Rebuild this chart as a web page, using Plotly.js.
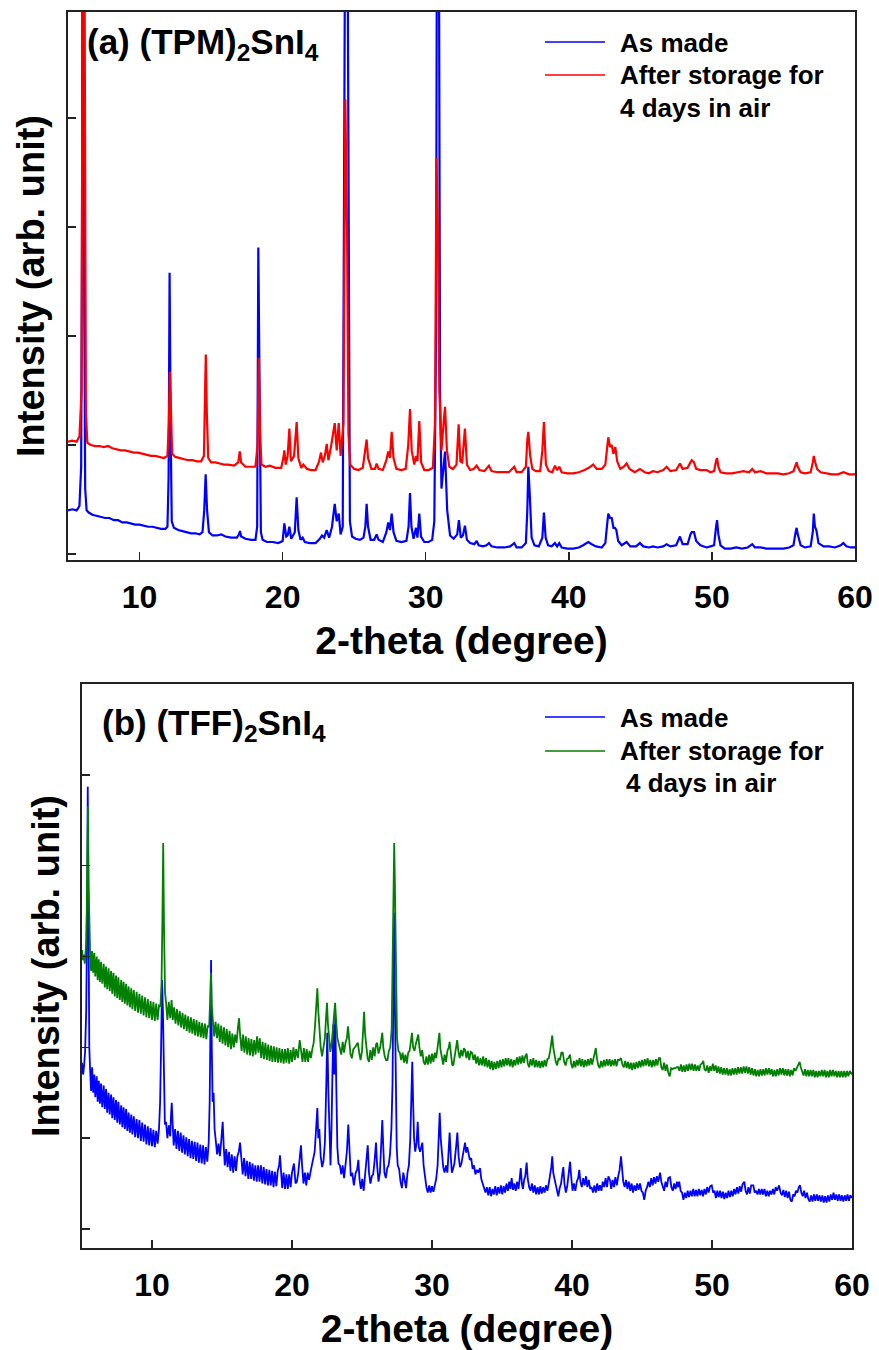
<!DOCTYPE html>
<html>
<head>
<meta charset="utf-8">
<script src="https://cdn.plot.ly/plotly-3.0.1.min.js"></script>
<style>html,body{margin:0;padding:0;background:#fff;}#chart{width:879px;height:1350px;}</style>
</head>
<body>
<div id="chart"></div>
<script>
// ---- Data (2-theta in degree, intensity in arbitrary units) ----
const xTicks = [10, 20, 30, 40, 50, 60];
const panelA_title = "(a) (TPM)<sub>2</sub>SnI<sub>4</sub>";
const panelB_title = "(b) (TFF)<sub>2</sub>SnI<sub>4</sub>";
const seriesNames = ["As made", "After storage for 4 days in air"];

const tpmAsMade = [[5.0,40],[5.3,41],[5.6,40],[5.8,44],[5.92,80],[5.98,300],[6.02,700],[6.08,700],[6.13,250],[6.2,60],[6.3,40],[6.45,38],[6.7,36],[7.0,35],[7.3,34],[7.6,33],[7.9,33],[8.2,31],[8.5,31],[8.8,29],[9.1,29],[9.4,28],[9.7,27],[10.0,27],[10.3,26],[10.6,25],[10.9,25],[11.2,24],[11.5,23],[11.8,23],[11.95,25],[12.03,70],[12.1,258],[12.17,120],[12.25,30],[12.4,24],[12.7,22],[13.0,21],[13.3,20],[13.6,19],[13.9,19],[14.2,18],[14.4,20],[14.52,40],[14.62,73],[14.72,40],[14.85,20],[15.1,17],[15.4,17],[15.7,18],[16.0,16],[16.4,15],[16.8,15],[16.95,18],[17.02,21],[17.1,16],[17.4,14],[17.8,13],[18.1,13],[18.22,25],[18.3,281],[18.38,140],[18.48,20],[18.6,13],[18.9,11],[19.3,11],[19.7,10],[20.0,12],[20.12,28],[20.25,16],[20.35,17],[20.47,25],[20.6,14],[20.85,20],[20.98,52],[21.1,22],[21.25,13],[21.4,15],[21.55,11],[21.9,10],[22.3,10],[22.6,14],[22.75,17],[22.9,15],[23.08,22],[23.25,15],[23.45,25],[23.64,46],[23.78,30],[23.92,37],[24.05,18],[24.2,25],[24.3,300],[24.4,700],[24.5,700],[24.6,250],[24.7,30],[24.85,16],[25.1,14],[25.4,13],[25.65,15],[25.78,25],[25.87,46],[25.97,25],[26.15,13],[26.4,13],[26.57,18],[26.7,13],[27.0,11],[27.25,20],[27.38,29],[27.5,22],[27.62,37],[27.75,20],[27.95,12],[28.3,11],[28.65,12],[28.8,25],[28.9,56],[29.0,25],[29.15,14],[29.32,24],[29.42,15],[29.55,37],[29.67,16],[29.9,11],[30.2,11],[30.45,13],[30.6,30],[30.72,200],[30.8,700],[30.9,700],[31.0,150],[31.1,60],[31.25,80],[31.35,94],[31.5,40],[31.7,17],[31.95,14],[32.2,18],[32.32,31],[32.45,15],[32.6,17],[32.74,26],[32.88,13],[33.1,10],[33.4,9],[33.56,12],[33.7,8],[34.0,7],[34.25,8],[34.42,10],[34.6,7],[35.0,6],[35.5,6],[35.9,7],[36.19,10],[36.35,6],[36.7,6],[37.0,10],[37.1,40],[37.17,80],[37.27,55],[37.4,15],[37.6,8],[37.9,7],[38.15,15],[38.26,38],[38.38,15],[38.55,8],[38.8,7],[39.03,10],[39.18,7],[39.33,10],[39.5,6],[39.9,5],[40.3,5],[40.7,6],[41.0,8],[41.36,11],[41.6,9],[41.9,7],[42.3,6],[42.55,10],[42.7,30],[42.76,37],[42.88,33],[43.0,33],[43.12,24],[43.22,24],[43.32,22],[43.45,12],[43.7,8],[44.04,11],[44.3,7],[44.7,7],[44.97,10],[45.2,7],[45.6,6],[45.88,7],[46.2,6],[46.6,7],[46.84,9],[47.1,7],[47.5,8],[47.77,16],[47.95,9],[48.3,9],[48.5,18],[48.59,20],[48.75,20],[48.9,12],[49.2,8],[49.63,6],[49.9,7],[50.15,8],[50.3,26],[50.36,31],[50.45,18],[50.6,8],[50.9,5],[51.3,5],[51.7,6],[52.1,5],[52.5,6],[52.82,9],[53.0,6],[53.4,6],[53.8,5],[54.2,5],[54.6,5],[55.0,5],[55.4,6],[55.7,8],[55.85,20],[55.92,24],[56.0,18],[56.2,8],[56.5,6],[56.9,7],[57.05,20],[57.12,37],[57.2,25],[57.3,22],[57.45,10],[57.8,7],[58.2,7],[58.6,6],[59.0,8],[59.18,10],[59.4,7],[59.7,6],[60.0,6]];

const tpmStored = [[5.0,103],[5.3,104],[5.6,103],[5.8,108],[5.95,150],[6.0,350],[6.05,700],[6.12,700],[6.18,300],[6.25,130],[6.35,102],[6.6,100],[6.9,99],[7.2,99],[7.5,98],[7.8,99],[8.1,97],[8.4,96],[8.7,95],[9.0,95],[9.3,94],[9.6,93],[9.9,93],[10.2,92],[10.5,91],[10.8,90],[11.1,90],[11.4,89],[11.7,88],[11.95,90],[12.05,120],[12.12,167],[12.2,120],[12.28,92],[12.5,89],[12.8,88],[13.1,87],[13.4,86],[13.7,86],[14.0,85],[14.3,85],[14.5,90],[14.58,150],[14.63,183],[14.7,130],[14.8,88],[15.0,84],[15.3,84],[15.6,83],[15.9,82],[16.2,82],[16.6,81],[16.9,84],[17.0,94],[17.1,84],[17.4,80],[17.8,80],[18.1,80],[18.25,100],[18.33,180],[18.42,110],[18.52,82],[18.8,80],[19.1,81],[19.5,79],[19.9,79],[20.05,88],[20.12,95],[20.22,82],[20.35,90],[20.47,115],[20.58,85],[20.8,90],[20.98,121],[21.1,88],[21.3,79],[21.45,82],[21.7,78],[22.0,77],[22.3,77],[22.55,85],[22.68,93],[22.8,84],[22.95,90],[23.08,101],[23.2,86],[23.4,100],[23.64,120],[23.78,95],[23.92,120],[24.05,90],[24.25,120],[24.38,417],[24.5,300],[24.6,110],[24.72,82],[25.0,78],[25.3,77],[25.6,79],[25.78,95],[25.87,105],[25.97,88],[26.2,78],[26.45,78],[26.57,83],[26.7,78],[27.0,77],[27.25,86],[27.38,94],[27.5,88],[27.62,112],[27.75,88],[27.95,78],[28.3,77],[28.6,78],[28.78,100],[28.9,133],[29.02,95],[29.2,82],[29.32,90],[29.42,85],[29.55,122],[29.68,84],[29.9,77],[30.2,77],[30.5,79],[30.65,120],[30.75,363],[30.85,300],[30.95,150],[31.1,95],[31.25,120],[31.35,135],[31.48,95],[31.65,80],[31.9,78],[32.15,82],[32.3,119],[32.42,85],[32.55,84],[32.74,115],[32.88,82],[33.1,77],[33.35,78],[33.56,81],[33.75,77],[34.1,76],[34.42,81],[34.6,76],[35.0,75],[35.4,75],[35.8,75],[36.19,80],[36.35,75],[36.7,75],[37.0,80],[37.1,105],[37.17,112],[37.3,90],[37.45,78],[37.7,76],[38.0,76],[38.15,95],[38.26,121],[38.4,82],[38.6,76],[38.85,75],[39.03,81],[39.18,77],[39.33,80],[39.5,75],[39.9,74],[40.3,74],[40.7,75],[41.1,77],[41.4,79],[41.7,82],[41.95,78],[42.3,78],[42.55,82],[42.7,100],[42.76,107],[42.88,98],[43.0,100],[43.12,92],[43.25,98],[43.38,85],[43.6,78],[43.85,80],[44.04,83],[44.25,78],[44.6,75],[44.97,78],[45.3,75],[45.6,74],[45.88,76],[46.2,75],[46.6,77],[46.84,80],[47.1,76],[47.5,77],[47.77,83],[47.95,78],[48.3,79],[48.5,84],[48.59,86],[48.75,84],[48.9,78],[49.2,77],[49.63,77],[49.9,75],[50.15,76],[50.3,86],[50.36,88],[50.45,80],[50.6,75],[51.0,74],[51.4,74],[51.8,75],[52.2,76],[52.6,75],[52.82,78],[53.0,75],[53.4,76],[53.8,74],[54.2,74],[54.6,74],[55.0,73],[55.4,74],[55.7,76],[55.85,82],[55.92,84],[56.0,80],[56.2,75],[56.5,74],[56.9,75],[57.05,84],[57.12,90],[57.2,85],[57.35,78],[57.6,75],[58.0,74],[58.4,73],[58.8,73],[59.2,75],[59.6,73],[60.0,73]];

const tffAsMade = [[5.0,183],[5.08,170],[5.15,180],[5.22,195],[5.3,240],[5.36,330],[5.41,487],[5.46,300],[5.52,200],[5.58,175],[5.65,152],[5.72,178],[5.8,150],[5.88,170],[5.95,145],[6.05,168],[6.12,140],[6.2,163],[6.28,138],[6.36,160],[6.45,134],[6.55,158],[6.63,132],[6.72,154],[6.8,128],[6.9,150],[6.98,126],[7.08,148],[7.16,122],[7.25,145],[7.34,120],[7.43,142],[7.52,117],[7.6,140],[7.7,115],[7.8,136],[7.88,112],[7.97,134],[8.06,110],[8.15,132],[8.24,108],[8.33,128],[8.42,106],[8.52,126],[8.6,104],[8.7,124],[8.8,101],[8.9,121],[9.0,100],[9.1,120],[9.2,97],[9.3,117],[9.4,96],[9.5,115],[9.6,93],[9.7,113],[9.8,92],[9.9,111],[10.0,91],[10.1,109],[10.2,90],[10.3,108],[10.4,94],[10.5,110],[10.58,140],[10.65,200],[10.72,274],[10.78,240],[10.85,150],[10.92,115],[11.0,118],[11.1,100],[11.2,114],[11.3,102],[11.36,125],[11.41,139],[11.47,118],[11.55,92],[11.65,110],[11.75,88],[11.85,108],[11.95,86],[12.05,106],[12.15,84],[12.25,103],[12.35,82],[12.45,101],[12.55,80],[12.65,99],[12.75,78],[12.85,97],[12.95,77],[13.05,96],[13.15,75],[13.25,95],[13.35,73],[13.45,93],[13.55,72],[13.65,92],[13.75,71],[13.85,90],[13.95,74],[14.05,95],[14.12,140],[14.18,230],[14.22,296],[14.27,200],[14.33,140],[14.4,150],[14.47,110],[14.55,98],[14.65,82],[14.75,94],[14.85,80],[14.95,98],[15.05,118],[15.12,92],[15.2,70],[15.3,88],[15.4,68],[15.5,85],[15.6,64],[15.7,82],[15.8,62],[15.9,80],[16.0,64],[16.1,80],[16.2,85],[16.29,95],[16.38,80],[16.48,60],[16.58,78],[16.68,58],[16.78,75],[16.88,55],[16.98,74],[17.08,55],[17.18,72],[17.28,53],[17.38,70],[17.48,52],[17.58,70],[17.68,52],[17.78,70],[17.88,50],[17.98,68],[18.08,49],[18.18,66],[18.28,48],[18.38,65],[18.48,48],[18.58,64],[18.68,46],[18.78,63],[18.88,47],[18.98,64],[19.08,70],[19.14,81],[19.2,62],[19.3,45],[19.4,62],[19.5,44],[19.6,60],[19.7,44],[19.8,60],[19.9,46],[20.0,62],[20.14,72],[20.25,50],[20.35,52],[20.45,62],[20.55,75],[20.64,92],[20.72,70],[20.82,50],[20.92,62],[21.02,48],[21.12,62],[21.22,54],[21.35,65],[21.5,75],[21.62,85],[21.72,110],[21.81,133],[21.88,100],[21.95,110],[22.05,80],[22.15,68],[22.25,75],[22.35,95],[22.45,160],[22.52,216],[22.6,150],[22.68,90],[22.75,70],[22.82,110],[22.9,200],[22.95,225],[23.02,170],[23.09,235],[23.16,160],[23.24,90],[23.32,72],[23.42,70],[23.52,60],[23.62,70],[23.72,56],[23.82,72],[23.92,85],[24.02,115],[24.1,80],[24.2,58],[24.3,62],[24.42,48],[24.55,62],[24.65,65],[24.74,76],[24.82,55],[24.92,44],[25.02,55],[25.12,42],[25.22,58],[25.32,70],[25.41,92],[25.5,62],[25.6,50],[25.7,58],[25.8,60],[25.9,75],[26.0,95],[26.08,70],[26.18,52],[26.28,62],[26.36,85],[26.45,120],[26.52,90],[26.6,62],[26.7,56],[26.8,67],[26.9,70],[27.0,82],[27.1,110],[27.18,160],[27.24,260],[27.29,348],[27.34,260],[27.4,150],[27.48,90],[27.55,70],[27.65,66],[27.75,52],[27.85,45],[27.95,62],[28.05,55],[28.15,45],[28.25,62],[28.35,70],[28.45,100],[28.53,150],[28.59,184],[28.65,140],[28.72,100],[28.8,85],[28.9,95],[28.98,118],[29.06,90],[29.15,85],[29.23,92],[29.31,95],[29.4,70],[29.5,55],[29.6,46],[29.7,40],[29.8,48],[29.9,40],[30.0,47],[30.1,41],[30.2,49],[30.3,55],[30.4,70],[30.48,100],[30.55,128],[30.62,100],[30.7,80],[30.8,68],[30.9,62],[31.0,70],[31.1,62],[31.18,85],[31.26,106],[31.34,80],[31.42,62],[31.5,66],[31.6,72],[31.72,90],[31.81,106],[31.9,80],[32.0,68],[32.1,72],[32.2,80],[32.28,88],[32.36,95],[32.44,84],[32.52,90],[32.6,84],[32.7,76],[32.8,78],[32.9,66],[33.0,70],[33.1,60],[33.2,65],[33.3,62],[33.43,67],[33.52,55],[33.62,50],[33.72,46],[33.82,40],[33.92,46],[34.02,37],[34.12,46],[34.22,36],[34.32,44],[34.42,38],[34.52,47],[34.62,37],[34.72,46],[34.82,39],[34.92,48],[35.02,38],[35.12,47],[35.22,40],[35.32,50],[35.42,42],[35.52,52],[35.6,44],[35.69,56],[35.78,43],[35.88,50],[35.98,42],[36.08,52],[36.18,44],[36.26,55],[36.34,67],[36.42,50],[36.5,44],[36.58,54],[36.66,58],[36.76,73],[36.84,55],[36.94,46],[37.04,42],[37.14,50],[37.24,40],[37.34,48],[37.44,38],[37.54,46],[37.64,38],[37.74,47],[37.84,39],[37.94,46],[38.04,40],[38.14,48],[38.24,42],[38.34,50],[38.44,58],[38.52,68],[38.59,80],[38.66,62],[38.74,56],[38.82,50],[38.92,40],[39.02,36],[39.12,45],[39.22,50],[39.3,60],[39.38,68],[39.46,50],[39.56,40],[39.66,47],[39.76,58],[39.86,74],[39.94,58],[40.04,42],[40.14,50],[40.24,42],[40.34,52],[40.44,56],[40.52,65],[40.6,52],[40.7,46],[40.8,56],[40.9,48],[41.0,58],[41.1,46],[41.2,54],[41.3,44],[41.4,46],[41.5,40],[41.6,48],[41.7,40],[41.8,50],[41.9,42],[42.0,48],[42.1,42],[42.2,52],[42.3,46],[42.4,56],[42.5,46],[42.6,58],[42.71,54],[42.8,44],[42.9,54],[43.0,46],[43.1,57],[43.2,48],[43.3,58],[43.4,65],[43.5,80],[43.58,62],[43.66,52],[43.76,46],[43.86,54],[43.96,44],[44.06,52],[44.16,42],[44.26,50],[44.36,40],[44.46,48],[44.56,42],[44.66,50],[44.76,43],[44.86,50],[44.96,42],[45.06,40],[45.16,32],[45.26,42],[45.36,46],[45.46,52],[45.56,46],[45.66,56],[45.76,48],[45.86,57],[45.96,50],[46.06,58],[46.16,52],[46.29,62],[46.38,52],[46.48,46],[46.58,42],[46.68,52],[46.78,46],[46.88,56],[47.0,57],[47.1,46],[47.2,42],[47.3,50],[47.4,44],[47.5,52],[47.58,46],[47.66,52],[47.76,42],[47.86,40],[47.96,32],[48.06,40],[48.16,34],[48.26,42],[48.36,35],[48.46,42],[48.56,36],[48.66,44],[48.76,36],[48.86,43],[48.96,36],[49.06,44],[49.16,37],[49.26,43],[49.36,36],[49.46,44],[49.56,38],[49.66,46],[49.76,40],[49.86,47],[49.98,48],[50.08,40],[50.18,42],[50.28,34],[50.38,42],[50.48,35],[50.58,42],[50.68,34],[50.78,41],[50.88,33],[50.98,40],[51.08,34],[51.18,42],[51.28,35],[51.38,42],[51.48,36],[51.58,44],[51.68,38],[51.78,46],[51.88,39],[51.98,47],[52.08,41],[52.18,49],[52.31,52],[52.4,42],[52.5,38],[52.6,46],[52.7,39],[52.8,48],[52.95,48],[53.05,40],[53.15,42],[53.25,38],[53.35,44],[53.45,38],[53.55,44],[53.65,38],[53.75,44],[53.85,36],[53.95,42],[54.05,36],[54.15,42],[54.25,38],[54.35,44],[54.45,38],[54.55,46],[54.65,42],[54.79,48],[54.9,40],[55.0,37],[55.1,43],[55.2,35],[55.3,42],[55.4,34],[55.5,41],[55.6,32],[55.7,30],[55.8,38],[55.9,36],[56.0,42],[56.1,40],[56.2,46],[56.29,48],[56.38,40],[56.48,36],[56.58,42],[56.68,34],[56.78,40],[56.88,33],[56.98,30],[57.08,37],[57.18,30],[57.28,38],[57.38,31],[57.48,38],[57.58,31],[57.68,37],[57.78,30],[57.88,37],[57.98,29],[58.08,36],[58.18,29],[58.28,37],[58.38,30],[58.48,38],[58.58,32],[58.68,40],[58.78,32],[58.88,38],[58.98,31],[59.08,38],[59.18,31],[59.28,37],[59.38,30],[59.48,37],[59.58,31],[59.68,38],[59.78,31],[59.88,37],[60.0,34]];

const tffStored = [[5.0,307],[5.06,296],[5.12,302],[5.2,292],[5.28,310],[5.34,350],[5.39,420],[5.43,465],[5.47,380],[5.52,320],[5.58,305],[5.65,284],[5.72,306],[5.8,282],[5.88,304],[5.95,278],[6.05,300],[6.12,274],[6.2,297],[6.28,272],[6.36,294],[6.45,270],[6.55,292],[6.63,266],[6.72,289],[6.8,264],[6.9,287],[6.98,262],[7.08,284],[7.16,259],[7.25,282],[7.34,256],[7.43,279],[7.52,254],[7.6,277],[7.7,252],[7.8,274],[7.88,250],[7.97,272],[8.06,248],[8.15,270],[8.24,246],[8.33,267],[8.42,244],[8.52,265],[8.6,242],[8.7,263],[8.8,240],[8.9,261],[9.0,238],[9.1,259],[9.2,237],[9.3,257],[9.4,235],[9.5,255],[9.6,233],[9.7,253],[9.8,232],[9.9,251],[10.0,230],[10.1,250],[10.2,229],[10.3,248],[10.4,230],[10.5,246],[10.6,245],[10.68,270],[10.75,350],[10.8,425],[10.86,330],[10.93,260],[11.0,250],[11.1,230],[11.2,250],[11.3,232],[11.4,252],[11.48,230],[11.58,244],[11.68,226],[11.78,242],[11.88,224],[11.98,240],[12.08,222],[12.18,238],[12.28,220],[12.38,236],[12.48,218],[12.58,234],[12.68,216],[12.78,233],[12.88,215],[12.98,231],[13.08,213],[13.18,230],[13.28,212],[13.38,228],[13.48,211],[13.58,227],[13.68,210],[13.78,226],[13.88,209],[13.98,224],[14.08,222],[14.15,250],[14.21,282],[14.27,245],[14.34,230],[14.44,212],[14.54,228],[14.64,210],[14.74,226],[14.84,206],[14.94,224],[15.04,204],[15.14,222],[15.24,202],[15.34,220],[15.44,200],[15.54,218],[15.64,198],[15.74,215],[15.84,200],[15.94,214],[16.04,205],[16.14,222],[16.22,232],[16.3,212],[16.4,196],[16.5,214],[16.6,194],[16.7,212],[16.8,192],[16.9,210],[17.0,191],[17.1,209],[17.2,190],[17.3,208],[17.4,192],[17.5,212],[17.6,194],[17.7,210],[17.8,188],[17.9,206],[18.0,187],[18.1,205],[18.2,186],[18.3,203],[18.4,185],[18.5,202],[18.6,184],[18.7,201],[18.8,184],[18.9,200],[19.0,183],[19.1,199],[19.2,183],[19.3,198],[19.4,182],[19.5,198],[19.6,183],[19.7,199],[19.8,182],[19.9,197],[20.0,184],[20.1,200],[20.2,186],[20.3,198],[20.42,188],[20.55,208],[20.65,192],[20.75,184],[20.85,199],[20.95,184],[21.05,198],[21.15,184],[21.25,196],[21.35,188],[21.45,198],[21.55,205],[21.65,225],[21.74,250],[21.81,265],[21.88,240],[21.96,215],[22.05,200],[22.15,190],[22.25,198],[22.35,210],[22.44,235],[22.5,249],[22.57,225],[22.65,205],[22.74,195],[22.84,205],[22.94,225],[23.02,240],[23.08,249],[23.15,230],[23.24,210],[23.32,205],[23.42,198],[23.52,192],[23.62,206],[23.72,194],[23.82,205],[23.92,210],[24.0,223],[24.08,205],[24.18,192],[24.28,188],[24.38,198],[24.5,200],[24.62,203],[24.7,205],[24.8,194],[24.9,186],[25.0,196],[25.08,215],[25.15,239],[25.22,215],[25.3,200],[25.4,188],[25.5,184],[25.6,197],[25.7,186],[25.8,200],[25.9,190],[26.0,203],[26.08,205],[26.18,193],[26.3,200],[26.38,210],[26.45,216],[26.52,200],[26.62,190],[26.72,186],[26.82,186],[26.92,196],[27.02,200],[27.12,220],[27.2,300],[27.26,390],[27.3,425],[27.35,380],[27.42,260],[27.5,210],[27.6,196],[27.7,194],[27.8,186],[27.9,194],[28.0,183],[28.1,192],[28.2,182],[28.3,194],[28.4,196],[28.5,205],[28.57,216],[28.65,200],[28.75,196],[28.85,204],[28.95,212],[29.02,214],[29.1,200],[29.2,190],[29.3,197],[29.4,184],[29.5,181],[29.6,190],[29.7,181],[29.8,192],[29.9,182],[30.0,193],[30.1,184],[30.2,194],[30.3,188],[30.4,198],[30.47,210],[30.53,216],[30.6,198],[30.7,188],[30.8,181],[30.9,192],[31.0,184],[31.1,196],[31.2,200],[31.26,206],[31.34,192],[31.44,181],[31.52,180],[31.62,192],[31.72,200],[31.8,208],[31.88,196],[31.98,188],[32.08,197],[32.18,190],[32.28,199],[32.36,197],[32.46,188],[32.56,196],[32.66,186],[32.76,195],[32.86,194],[32.96,186],[33.06,192],[33.16,182],[33.26,190],[33.36,180],[33.46,188],[33.56,180],[33.66,190],[33.76,179],[33.86,188],[33.96,178],[34.06,186],[34.16,176],[34.26,185],[34.36,175],[34.46,184],[34.56,176],[34.66,185],[34.76,177],[34.86,186],[34.96,178],[35.06,187],[35.16,179],[35.26,188],[35.36,180],[35.46,188],[35.56,179],[35.66,187],[35.76,178],[35.86,186],[35.96,180],[36.06,189],[36.16,181],[36.26,190],[36.36,182],[36.46,191],[36.56,183],[36.66,190],[36.76,193],[36.84,182],[36.94,178],[37.04,187],[37.14,180],[37.24,188],[37.34,178],[37.44,186],[37.54,178],[37.64,185],[37.74,177],[37.84,185],[37.94,178],[38.04,186],[38.14,179],[38.24,187],[38.34,188],[38.44,196],[38.52,205],[38.59,213],[38.66,200],[38.74,190],[38.84,184],[38.94,180],[39.04,188],[39.14,186],[39.24,194],[39.34,194],[39.44,184],[39.54,180],[39.64,187],[39.74,188],[39.86,192],[39.94,182],[40.04,177],[40.14,185],[40.24,178],[40.34,186],[40.44,180],[40.54,188],[40.64,179],[40.74,187],[40.84,178],[40.94,186],[41.04,179],[41.14,187],[41.24,180],[41.34,188],[41.44,181],[41.54,188],[41.62,194],[41.7,199],[41.78,188],[41.88,180],[41.98,177],[42.08,185],[42.18,178],[42.28,186],[42.38,179],[42.48,187],[42.58,180],[42.68,187],[42.78,179],[42.88,186],[42.98,180],[43.08,187],[43.18,179],[43.28,186],[43.38,186],[43.5,188],[43.6,181],[43.7,178],[43.8,185],[43.9,177],[44.0,184],[44.1,176],[44.2,183],[44.3,175],[44.4,183],[44.5,176],[44.6,184],[44.7,177],[44.8,185],[44.9,178],[45.0,186],[45.1,179],[45.2,187],[45.3,180],[45.4,188],[45.5,179],[45.6,186],[45.7,178],[45.8,186],[45.9,179],[46.0,187],[46.1,180],[46.2,188],[46.29,188],[46.38,178],[46.48,175],[46.58,183],[46.68,174],[46.78,181],[46.88,172],[46.98,168],[47.08,177],[47.18,176],[47.28,177],[47.38,177],[47.48,178],[47.58,178],[47.68,174],[47.78,181],[47.88,173],[47.98,180],[48.08,173],[48.18,181],[48.28,174],[48.38,182],[48.48,175],[48.58,182],[48.68,174],[48.78,181],[48.88,174],[48.98,180],[49.08,174],[49.18,181],[49.28,182],[49.38,185],[49.46,176],[49.56,174],[49.66,180],[49.76,172],[49.86,179],[49.96,174],[50.06,182],[50.16,174],[50.26,180],[50.36,172],[50.46,179],[50.56,171],[50.66,178],[50.76,170],[50.86,177],[50.96,170],[51.06,177],[51.16,169],[51.26,176],[51.36,169],[51.46,177],[51.56,170],[51.66,177],[51.76,170],[51.86,178],[51.96,171],[52.06,178],[52.16,171],[52.26,179],[52.36,172],[52.46,179],[52.56,171],[52.66,178],[52.76,170],[52.86,177],[52.96,169],[53.06,176],[53.16,168],[53.26,175],[53.36,168],[53.46,176],[53.56,169],[53.66,176],[53.76,169],[53.86,177],[53.96,170],[54.06,177],[54.16,170],[54.26,176],[54.36,168],[54.46,175],[54.56,168],[54.66,176],[54.76,169],[54.86,177],[54.96,170],[55.06,177],[55.16,169],[55.26,176],[55.36,169],[55.46,176],[55.56,168],[55.66,175],[55.76,169],[55.86,177],[55.96,174],[56.06,178],[56.16,180],[56.26,184],[56.34,178],[56.44,172],[56.54,169],[56.64,176],[56.74,168],[56.84,175],[56.94,168],[57.04,175],[57.14,168],[57.24,175],[57.34,167],[57.44,174],[57.54,167],[57.64,174],[57.74,168],[57.84,175],[57.94,168],[58.04,175],[58.14,167],[58.24,174],[58.34,167],[58.44,175],[58.54,168],[58.64,175],[58.74,168],[58.84,174],[58.94,167],[59.04,174],[59.14,167],[59.24,174],[59.34,167],[59.44,174],[59.54,167],[59.64,174],[59.74,168],[59.84,174],[60.0,170]];

// ---- Build figure ----
const FONT = 'Arial, "Liberation Sans", Helvetica, sans-serif';
const W = 879, H = 1350;
const px = v => v / W;          // pixel -> paper x
const py = v => 1 - v / H;      // pixel -> paper y
const xs = a => a.map(p => p[0]);
const ys = a => a.map(p => p[1]);

const traces = [
  {x: xs(tpmAsMade), y: ys(tpmAsMade), xaxis: 'x', yaxis: 'y', type: 'scatter', mode: 'lines',
   name: seriesNames[0], line: {color: '#0000ff', width: 2.2}, showlegend: false},
  {x: xs(tpmStored), y: ys(tpmStored), xaxis: 'x', yaxis: 'y', type: 'scatter', mode: 'lines',
   name: seriesNames[1], line: {color: '#ff0000', width: 2.2}, showlegend: false},
  {x: xs(tffAsMade), y: ys(tffAsMade), xaxis: 'x2', yaxis: 'y2', type: 'scatter', mode: 'lines',
   name: seriesNames[0], line: {color: '#0000ff', width: 1.8}, showlegend: false},
  {x: xs(tffStored), y: ys(tffStored), xaxis: 'x2', yaxis: 'y2', type: 'scatter', mode: 'lines',
   name: seriesNames[1], line: {color: '#008000', width: 1.8}, showlegend: false}
];

const axisLine = {showline: true, linecolor: '#222', linewidth: 1.6, mirror: true,
  showgrid: false, zeroline: false, ticks: 'inside', ticklen: 8, tickwidth: 1.5, tickcolor: '#222'};

const xCommon = Object.assign({}, axisLine, {
  range: [5, 60], tickmode: 'array', tickvals: xTicks, ticktext: xTicks.map(String),
  tickfont: {family: FONT, size: 32, color: '#000', weight: 'bold'},
  ticklabelstandoff: 8,
  title: {text: '2-theta (degree)', font: {family: FONT, size: 39, color: '#000', weight: 'bold'}, standoff: 12}
});

const yTitleFont = {family: FONT, size: 38, color: '#000', weight: 'bold'};

const layout = {
  width: W, height: H,
  margin: {l: 0, r: 0, t: 0, b: 0},
  paper_bgcolor: '#fff', plot_bgcolor: '#fff',
  showlegend: false,
  xaxis: Object.assign({}, xCommon, {domain: [px(68), px(855)], anchor: 'y'}),
  yaxis: Object.assign({}, axisLine, {domain: [py(560), py(12)], anchor: 'x',
    range: [-5.5, 497], tickmode: 'array', tickvals: [0, 100, 200, 300, 400], showticklabels: false,
    title: {text: 'Intensity (arb. unit)', font: yTitleFont, standoff: 10}}),
  xaxis2: Object.assign({}, xCommon, {domain: [px(82), px(852)], anchor: 'y2'}),
  yaxis2: Object.assign({}, axisLine, {domain: [py(1248), py(684)], anchor: 'x2',
    range: [-21, 600], tickmode: 'array', tickvals: [0, 100, 200, 300, 400, 500], showticklabels: false,
    title: {text: 'Intensity (arb. unit)', font: yTitleFont, standoff: 9}}),
  shapes: [
    {type: 'line', xref: 'paper', yref: 'paper', x0: px(545), x1: px(605), y0: py(42), y1: py(42), line: {color: '#0000ff', width: 1.6}},
    {type: 'line', xref: 'paper', yref: 'paper', x0: px(545), x1: px(605), y0: py(75), y1: py(75), line: {color: '#ff0000', width: 1.6}},
    {type: 'line', xref: 'paper', yref: 'paper', x0: px(545), x1: px(605), y0: py(717), y1: py(717), line: {color: '#0000ff', width: 1.6}},
    {type: 'line', xref: 'paper', yref: 'paper', x0: px(545), x1: px(605), y0: py(751), y1: py(751), line: {color: '#008000', width: 1.6}}
  ],
  annotations: [
    {text: panelA_title, xref: 'paper', yref: 'paper', x: px(85), y: py(44), xanchor: 'left', yanchor: 'middle', showarrow: false,
     font: {family: FONT, size: 35, color: '#000', weight: 'bold'}},
    {text: panelB_title, xref: 'paper', yref: 'paper', x: px(100), y: py(725), xanchor: 'left', yanchor: 'middle', showarrow: false,
     font: {family: FONT, size: 35, color: '#000', weight: 'bold'}},
    {text: 'As made', xref: 'paper', yref: 'paper', x: px(618), y: py(43), xanchor: 'left', yanchor: 'middle', showarrow: false,
     font: {family: FONT, size: 26, color: '#000', weight: 'bold'}},
    {text: 'After storage for', xref: 'paper', yref: 'paper', x: px(618), y: py(75), xanchor: 'left', yanchor: 'middle', showarrow: false,
     font: {family: FONT, size: 26, color: '#000', weight: 'bold'}},
    {text: '4 days in air', xref: 'paper', yref: 'paper', x: px(618), y: py(108), xanchor: 'left', yanchor: 'middle', showarrow: false,
     font: {family: FONT, size: 26, color: '#000', weight: 'bold'}},
    {text: 'As made', xref: 'paper', yref: 'paper', x: px(618), y: py(718), xanchor: 'left', yanchor: 'middle', showarrow: false,
     font: {family: FONT, size: 26, color: '#000', weight: 'bold'}},
    {text: 'After storage for', xref: 'paper', yref: 'paper', x: px(618), y: py(751), xanchor: 'left', yanchor: 'middle', showarrow: false,
     font: {family: FONT, size: 26, color: '#000', weight: 'bold'}},
    {text: '4 days in air', xref: 'paper', yref: 'paper', x: px(624), y: py(783), xanchor: 'left', yanchor: 'middle', showarrow: false,
     font: {family: FONT, size: 26, color: '#000', weight: 'bold'}}
  ]
};

Plotly.newPlot('chart', traces, layout, {staticPlot: true, displayModeBar: false});
</script>
</body>
</html>
